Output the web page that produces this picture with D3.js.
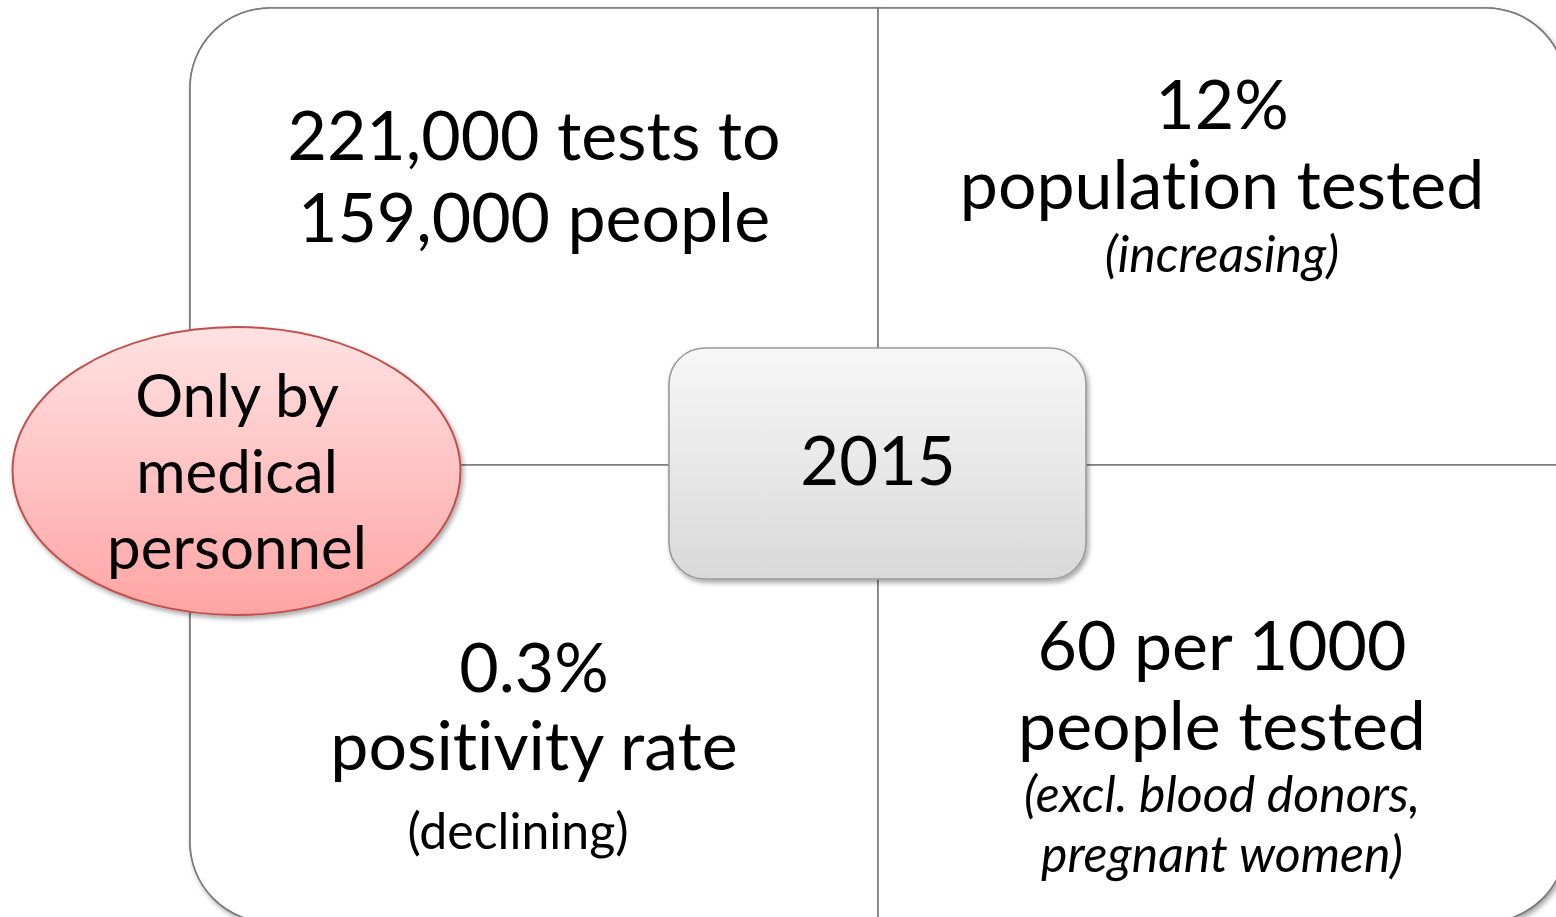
<!DOCTYPE html>
<html lang="en">

<head>
    <meta charset="UTF-8">
    <title>2015 testing overview</title>
    <script src="https://d3js.org/d3.v7.min.js"></script>
    <style>
        html, body { margin: 0; padding: 0; background: #fff; overflow: hidden; }
        text { font-family: Lato, "Open Sans", sans-serif; fill: #000; font-variant-ligatures: none; }
    </style>
</head>

<body>
    <div id="my_dataviz"></div>

    <script>
        // ---- content ----
        var quadrantNames = ["tl", "tr", "bl", "br"];
        var quadrantMain = [
            ["221,000 tests to", "159,000 people"],
            ["12%", "population tested"],
            ["0.3%", "positivity rate"],
            ["60 per 1000", "people tested"]
        ];
        var quadrantNotes = [
            [],
            ["(increasing)"],
            ["(declining)"],
            ["(excl. blood donors,", "pregnant women)"]
        ];
        var noteItalic = [false, true, false, true];
        var centerLabel = ["2015"];
        var ellipseLines = ["Only by", "medical", "personnel"];

        // ---- layout ----
        var width = 1556, height = 917;
        var box = { x0: 190, x1: 1566, y0: 8, y1: 922, r: 80 };
        var cx = 878, cy = 465;

        // baseline of first line, step, note baseline, note step, note x shift
        var textLayout = {
            tl: { y: 160, step: 82, ny: 0, nstep: 0, nx: 0 },
            tr: { y: 129, step: 80, ny: 272, nstep: 60, nx: 0 },
            bl: { y: 692, step: 78, ny: 849, nstep: 60, nx: -16 },
            br: { y: 670, step: 80, ny: 812, nstep: 60, nx: 0 }
        };

        var svg = d3.select("#my_dataviz")
            .append("svg")
            .attr("width", width)
            .attr("height", height);

        var defs = svg.append("defs");

        var shadow = defs.append("filter").attr("id", "shadow")
            .attr("x", "-10%").attr("y", "-10%").attr("width", "125%").attr("height", "125%");
        shadow.append("feDropShadow")
            .attr("dx", 2).attr("dy", 3).attr("stdDeviation", 2.5)
            .attr("flood-color", "#000").attr("flood-opacity", 0.35);

        var redGrad = defs.append("linearGradient").attr("id", "redGrad")
            .attr("x1", 0).attr("y1", 0).attr("x2", 0).attr("y2", 1);
        redGrad.append("stop").attr("offset", "0%").attr("stop-color", "#ffe2e2");
        redGrad.append("stop").attr("offset", "100%").attr("stop-color", "#ffa4a4");

        var greyGrad = defs.append("linearGradient").attr("id", "greyGrad")
            .attr("x1", 0).attr("y1", 0).attr("x2", 0).attr("y2", 1);
        greyGrad.append("stop").attr("offset", "0%").attr("stop-color", "#f7f7f7");
        greyGrad.append("stop").attr("offset", "100%").attr("stop-color", "#d9d9d9");

        // quadrant rectangle with one rounded outer corner
        function quadPath(name) {
            var r = box.r, p = d3.path();
            if (name === "tl") {
                p.moveTo(box.x0, cy);
                p.lineTo(box.x0, box.y0 + r);
                p.arcTo(box.x0, box.y0, box.x0 + r, box.y0, r);
                p.lineTo(cx, box.y0); p.lineTo(cx, cy); p.closePath();
            } else if (name === "tr") {
                p.moveTo(cx, box.y0);
                p.lineTo(box.x1 - r, box.y0);
                p.arcTo(box.x1, box.y0, box.x1, box.y0 + r, r);
                p.lineTo(box.x1, cy); p.lineTo(cx, cy); p.closePath();
            } else if (name === "bl") {
                p.moveTo(box.x0, cy);
                p.lineTo(cx, cy); p.lineTo(cx, box.y1);
                p.lineTo(box.x0 + r, box.y1);
                p.arcTo(box.x0, box.y1, box.x0, box.y1 - r, r);
                p.closePath();
            } else {
                p.moveTo(cx, cy);
                p.lineTo(box.x1, cy);
                p.lineTo(box.x1, box.y1 - r);
                p.arcTo(box.x1, box.y1, box.x1 - r, box.y1, r);
                p.lineTo(cx, box.y1); p.closePath();
            }
            return p.toString();
        }

        svg.append("g").selectAll("path")
            .data(quadrantNames)
            .enter().append("path")
            .attr("d", quadPath)
            .attr("fill", "#fff")
            .attr("stroke", "#7a7a7a")
            .attr("stroke-width", 1.6)
            .attr("filter", "url(#shadow)");

        // redraw fills without shadow so inner shadows don't spill over neighbours
        svg.append("g").selectAll("path")
            .data(quadrantNames)
            .enter().append("path")
            .attr("d", quadPath)
            .attr("fill", "#fff")
            .attr("stroke", "#7a7a7a")
            .attr("stroke-width", 1.6);

        // quadrant texts
        var textG = svg.append("g");
        quadrantNames.forEach(function (name, i) {
            var L = textLayout[name];
            var x = name[1] === "l" ? (box.x0 + cx) / 2 : (cx + box.x1) / 2;
            textG.selectAll(null)
                .data(quadrantMain[i])
                .enter().append("text")
                .attr("x", x)
                .attr("y", function (d, j) { return L.y + j * L.step; })
                .attr("text-anchor", "middle")
                .style("font-size", "68px")
                .text(function (d) { return d; });
            textG.selectAll(null)
                .data(quadrantNotes[i])
                .enter().append("text")
                .attr("x", x + L.nx)
                .attr("y", function (d, j) { return L.ny + j * L.nstep; })
                .attr("text-anchor", "middle")
                .style("font-size", "50px")
                .style("font-style", noteItalic[i] ? "italic" : "normal")
                .text(function (d) { return d; });
        });

        // centre box
        var center = svg.append("g");
        center.append("rect")
            .attr("x", 669).attr("y", 348)
            .attr("width", 417).attr("height", 231)
            .attr("rx", 36).attr("ry", 36)
            .attr("fill", "url(#greyGrad)")
            .attr("stroke", "#9a9a9a")
            .attr("stroke-width", 1.6)
            .attr("filter", "url(#shadow)");
        center.selectAll("text")
            .data(centerLabel)
            .enter().append("text")
            .attr("x", cx)
            .attr("y", 485)
            .attr("text-anchor", "middle")
            .style("font-size", "67px")
            .text(function (d) { return d; });

        // ellipse
        var ell = svg.append("g");
        ell.append("ellipse")
            .attr("cx", 236.5).attr("cy", 471)
            .attr("rx", 224).attr("ry", 144)
            .attr("fill", "url(#redGrad)")
            .attr("stroke", "#c0504d")
            .attr("stroke-width", 2)
            .attr("filter", "url(#shadow)");
        ell.selectAll("text")
            .data(ellipseLines)
            .enter().append("text")
            .attr("x", 237)
            .attr("y", function (d, j) { return 417 + j * 76; })
            .attr("text-anchor", "middle")
            .style("font-size", "60px")
            .text(function (d) { return d; });
    </script>
</body>

</html>
